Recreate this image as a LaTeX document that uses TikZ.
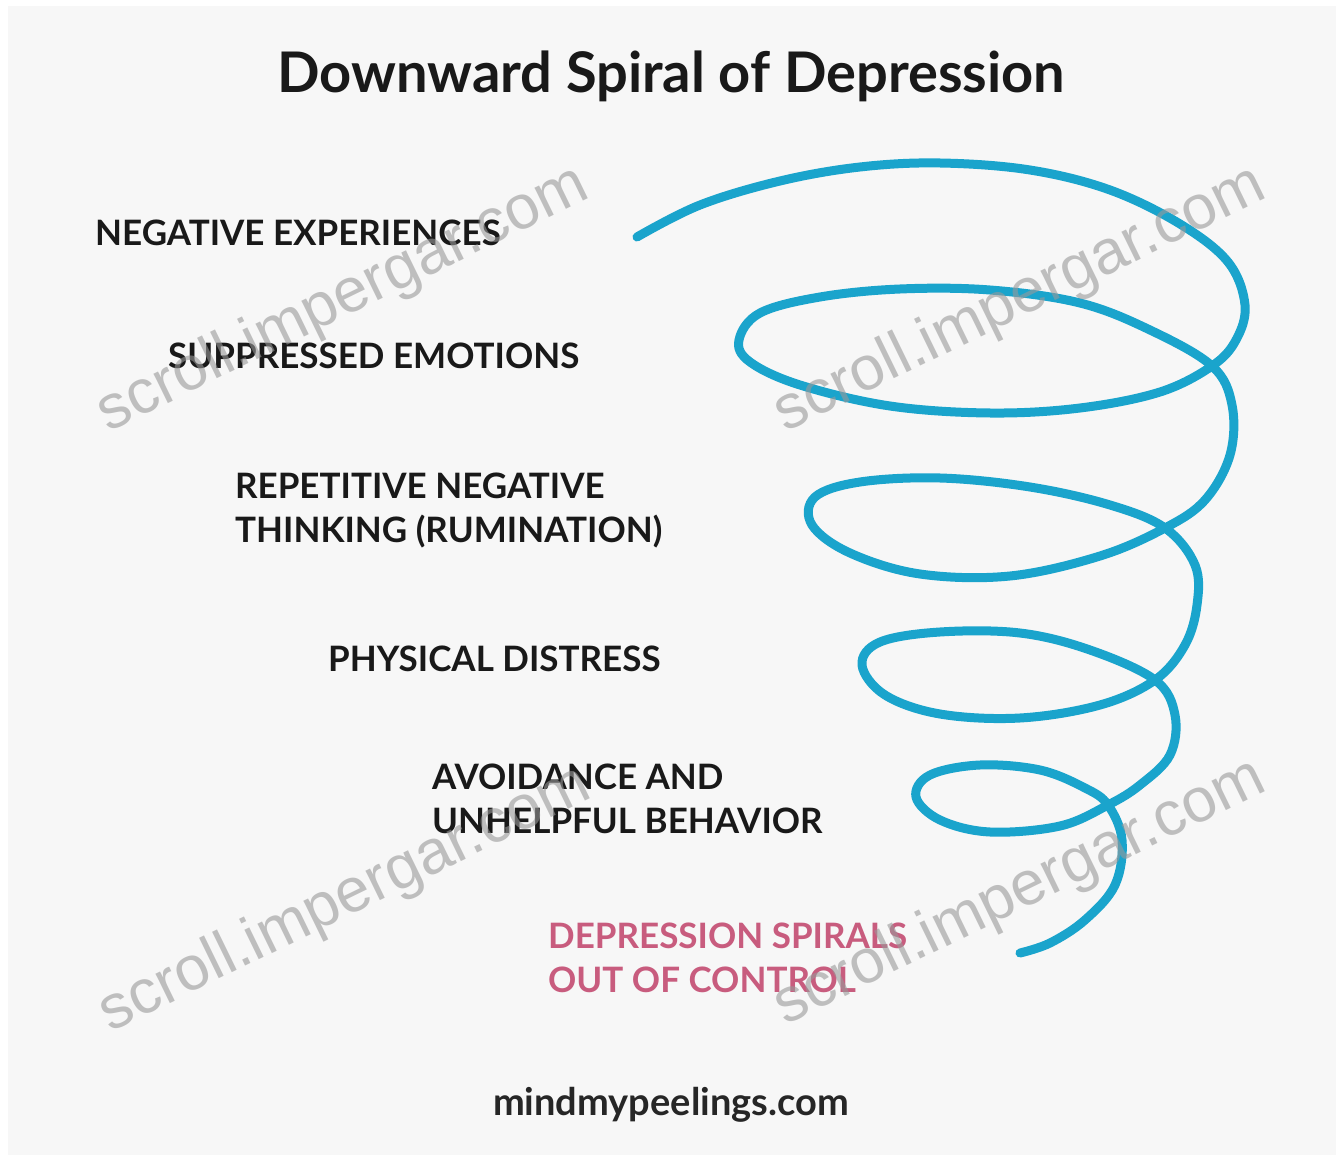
\documentclass[tikz,border=0pt]{standalone}
\usepackage{fontspec}
\setmainfont{Lato}
\newfontfamily\wmfont{Liberation Sans}
\usepackage{tikz}
\definecolor{panelgrey}{RGB}{247,247,247}
\definecolor{spiralblue}{RGB}{26,164,204}
\definecolor{spiralpink}{RGB}{200,92,126}
\tikzset{
  stage/.style={anchor=base west, inner sep=0pt, align=left,
    font=\fontsize{35}{44}\selectfont\bfseries, text=black!90},
  wmtext/.style={rotate=26, inner sep=0pt, text=black!40, opacity=0.6,
    font=\wmfont\fontsize{62}{62}\selectfont},
}

\begin{document}
\begin{tikzpicture}[x=1pt,y=-1pt]
	%%%%% START %%%%%
	
	\fill[white] (0, 0) rectangle (1336, 1155);
	\fill[panelgrey] (8, 6) rectangle (1336, 1155);
	
	\node[anchor=base, inner sep=0pt, font=\fontsize{56}{56}\selectfont\bfseries, text=black!90] (title) at (671, 93) {Downward Spiral of Depression};
	
	% base of a two line node is its last line
	\node[stage] (negexp) at (95, 246) {NEGATIVE EXPERIENCES};
	\node[stage] (suppr) at (168, 369) {SUPPRESSED EMOTIONS};
	\node[stage] (rumin) at (235, 542) {REPETITIVE NEGATIVE\\THINKING (RUMINATION)};
	\node[stage] (physd) at (328, 671) {PHYSICAL DISTRESS};
	\node[stage] (avoid) at (432, 833) {AVOIDANCE AND\\UNHELPFUL BEHAVIOR};
	\node[stage, text=spiralpink] (control) at (548, 992) {DEPRESSION SPIRALS\\OUT OF CONTROL};
	
	% the spiral, one loop after the other
	\draw[line width=9pt, line cap=round, color=spiralblue] plot[smooth, tension=0.6] coordinates {
		(637,237) (700,205) (780,181) (860,167) (940,163) (1030,170) (1110,190) (1180,224) (1228,262) (1245,305) (1236,340) (1212,366)
		(1160,392) (1080,408) (990,413) (890,406) (800,385) (750,362) (739,340) (760,313) (820,297) (900,289) (990,290) (1080,303) (1150,330) (1212,366)
		(1232,405) (1230,455) (1205,500) (1165,528)
		(1100,556) (1010,576) (920,574) (850,553) (812,525) (815,497) (860,482) (940,478) (1030,487) (1110,505) (1165,528)
		(1195,565) (1197,605) (1185,645) (1155,680)
		(1100,705) (1020,718) (940,714) (885,695) (862,665) (880,642) (940,632) (1020,633) (1090,650) (1155,680)
		(1175,715) (1170,755) (1140,785) (1108,805)
		(1060,826) (990,832) (940,820) (916,797) (930,775) (980,765) (1040,770) (1085,788) (1108,805)
		(1122,840) (1115,885) (1085,920) (1050,943) (1020,953)};
	
	\node[anchor=base, inner sep=0pt, font=\fontsize{38}{38}\selectfont\bfseries, text=black!85] (site) at (671, 1115) {mindmypeelings.com};
	
	% watermarks
	\node[wmtext] (wm1) at (343, 300) {scroll.impergar.com};
	\node[wmtext] (wm2) at (1020, 300) {scroll.impergar.com};
	\node[wmtext] (wm3) at (345, 900) {scroll.impergar.com};
	\node[wmtext] (wm4) at (1020, 893) {scroll.impergar.com};
	
	%%%%% END %%%%%
\end{tikzpicture}
\end{document}
